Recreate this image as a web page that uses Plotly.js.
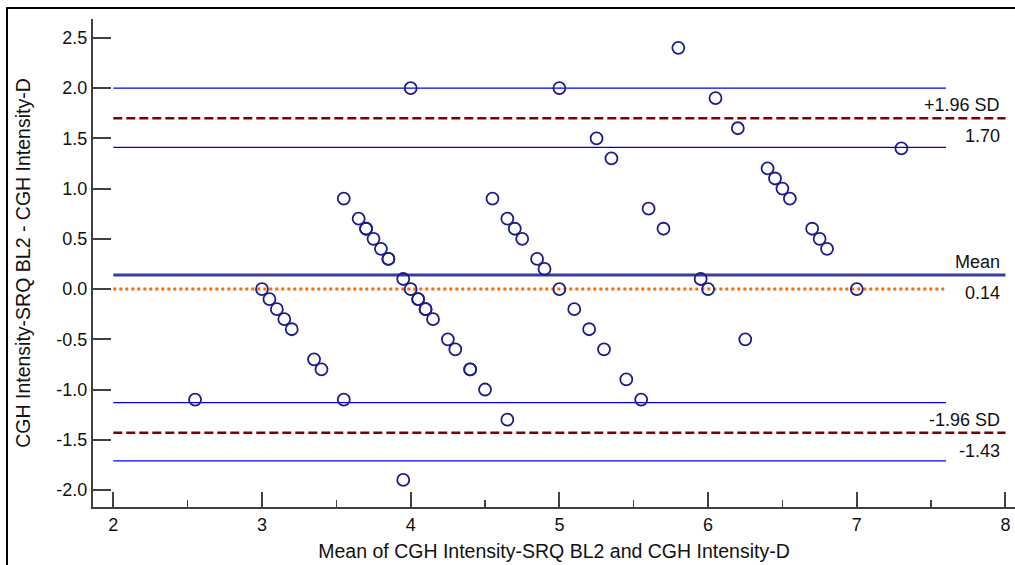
<!DOCTYPE html>
<html>
<head>
<meta charset="utf-8">
<script src="https://cdn.plot.ly/plotly-3.0.1.min.js"></script>
<style>
html,body{margin:0;padding:0;background:#fff;}
#wrap{position:relative;width:1015px;height:565px;overflow:hidden;}
#chart{width:1015px;height:565px;}
#frame{position:absolute;left:6px;top:7px;width:1100px;height:700px;border-left:2px solid #000;border-top:2px solid #000;pointer-events:none;}
</style>
</head>
<body>
<div id="wrap"><div id="chart"></div><div id="frame"></div></div>
<script>
// Bland-Altman data: mean of the two methods (x) and their difference (y)
const meanValues = [2.55, 3.00, 3.05, 3.10, 3.15, 3.20, 3.35, 3.40,
  3.55, 3.55, 3.65, 3.70, 3.70, 3.75, 3.80, 3.85, 3.85,
  3.95, 3.95, 4.00, 4.00, 4.05, 4.05, 4.10, 4.10, 4.15, 4.25, 4.30, 4.40, 4.40, 4.50,
  4.55, 4.65, 4.65, 4.70, 4.75, 4.85, 4.90, 5.00, 5.00,
  5.10, 5.20, 5.25, 5.30, 5.35, 5.45, 5.55, 5.60, 5.70, 5.80,
  5.95, 6.00, 6.05, 6.20, 6.25, 6.40, 6.45, 6.50, 6.55, 6.70, 6.75, 6.80, 7.00, 7.30];
const diffValues = [-1.1, 0.0, -0.1, -0.2, -0.3, -0.4, -0.7, -0.8,
  0.9, -1.1, 0.7, 0.6, 0.6, 0.5, 0.4, 0.3, 0.3,
  -1.9, 0.1, 0.0, 2.0, -0.1, -0.1, -0.2, -0.2, -0.3, -0.5, -0.6, -0.8, -0.8, -1.0,
  0.9, 0.7, -1.3, 0.6, 0.5, 0.3, 0.2, 0.0, 2.0,
  -0.2, -0.4, 1.5, -0.6, 1.3, -0.9, -1.1, 0.8, 0.6, 2.4,
  0.1, 0.0, 1.9, 1.6, -0.5, 1.2, 1.1, 1.0, 0.9, 0.6, 0.5, 0.4, 0.0, 1.4];

// Mean difference and limits of agreement
const limitNames  = ['+1.96 SD', 'Mean', '-1.96 SD'];
const limitValues = [1.70, 0.14, -1.43];
// 95% confidence intervals of the limits of agreement
const ciValues = [2.00, 1.41, -1.13, -1.71];
// line of equality
const equalityValue = 0.0;

// axis ticks
const xTickVals = [2, 3, 4, 5, 6, 7, 8];
const yTickVals = [-2.0, -1.5, -1.0, -0.5, 0.0, 0.5, 1.0, 1.5, 2.0, 2.5];
const yTickText = ['-2.0', '-1.5', '-1.0', '-0.5', '0.0', '0.5', '1.0', '1.5', '2.0', '2.5'];

const FONT = 'Liberation Sans, Arial, sans-serif';
const traces = [];

ciValues.forEach(v => traces.push({
  x: [2, 7.6], y: [v, v], mode: 'lines', hoverinfo: 'skip', showlegend: false,
  line: {color: '#0000ee', width: 1.3}
}));
traces.push({
  x: [2, 7.6], y: [equalityValue, equalityValue], mode: 'lines', hoverinfo: 'skip', showlegend: false,
  line: {color: '#ff6a00', width: 3, dash: '3px,3px'}
});
limitValues.forEach((v, i) => traces.push({
  x: [2, 8], y: [v, v], mode: 'lines', hoverinfo: 'skip', showlegend: false,
  line: i === 1 ? {color: '#3c3c9c', width: 3} : {color: '#800000', width: 2.5, dash: '9px,4px'}
}));
traces.push({
  x: meanValues, y: diffValues, mode: 'markers', type: 'scatter', showlegend: false,
  marker: {symbol: 'circle-open', size: 12, color: '#1c1c8c', line: {width: 1.8, color: '#1c1c8c'}}
});

const annotations = [];
limitValues.forEach((v, i) => {
  annotations.push({x: 8, y: v, xref: 'x', yref: 'y', text: limitNames[i], showarrow: false,
    xanchor: 'right', yanchor: 'middle', xshift: -3, yshift: 13, font: {family: FONT, size: 18, color: '#111'}});
  annotations.push({x: 8, y: v, xref: 'x', yref: 'y', text: v.toFixed(2), showarrow: false,
    xanchor: 'right', yanchor: 'middle', xshift: -3, yshift: -18, font: {family: FONT, size: 18, color: '#111'}});
});

const layout = {
  width: 1015, height: 565,
  margin: {l: 93, r: 0, t: 19, b: 58, pad: 0},
  paper_bgcolor: '#fff', plot_bgcolor: '#fff',
  font: {family: FONT, size: 18, color: '#111'},
  showlegend: false,
  xaxis: {
    range: [1.8635, 8.064], tickvals: xTickVals, ticks: 'inside', ticklen: 15, tickwidth: 2,
    tickcolor: '#404040', showline: true, linecolor: '#404040', linewidth: 2,
    showgrid: false, zeroline: false, tickfont: {family: FONT, size: 18, color: '#111'},
    minor: {dtick: 0.5, tick0: 2, ticks: 'inside', ticklen: 7, tickwidth: 1.5, tickcolor: '#404040', showgrid: false},
    title: {text: 'Mean of CGH Intensity-SRQ BL2 and CGH Intensity-D', font: {family: FONT, size: 19.5, color: '#111'}, standoff: 11}
  },
  yaxis: {
    range: [-2.169, 2.687], tickvals: yTickVals, ticktext: yTickText, ticks: 'inside', ticklen: 18, tickwidth: 2,
    tickcolor: '#404040', showline: true, linecolor: '#404040', linewidth: 2,
    showgrid: false, zeroline: false, tickfont: {family: FONT, size: 18, color: '#111'},
    title: {text: 'CGH Intensity-SRQ BL2 - CGH Intensity-D', font: {family: FONT, size: 19.5, color: '#111'}, standoff: 21}
  },
  annotations: annotations
};

Plotly.newPlot('chart', traces, layout, {staticPlot: true, displayModeBar: false});
</script>
</body>
</html>
